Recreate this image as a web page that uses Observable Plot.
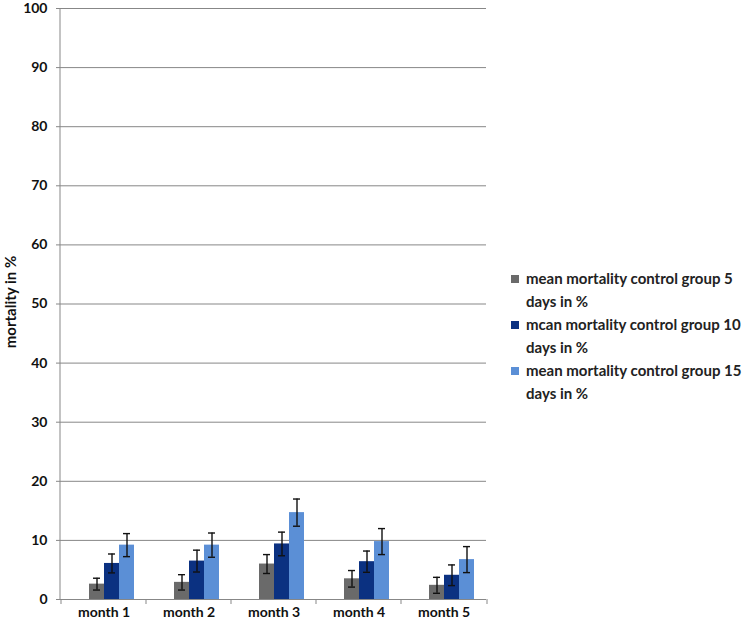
<!DOCTYPE html>
<html>
<head>
<meta charset="utf-8">
<script src="https://cdn.jsdelivr.net/npm/d3@7"></script>
<script src="https://cdn.jsdelivr.net/npm/@observablehq/plot@0.6"></script>
<style>
  html, body { margin: 0; padding: 0; background: #fff; overflow: hidden; }
  #wrap { position: relative; width: 742px; height: 626px; font-family: Lato, "Open Sans", sans-serif; }
  #legend { position: absolute; left: 511px; top: 267px; width: 231px; font-weight: bold; font-size: 15px; color: #222; }
  .item { display: flex; align-items: flex-start; margin-bottom: 1px; line-height: 22.5px; }
  .sw { width: 8px; height: 8px; margin-top: 8px; margin-right: 7px; flex: none; }
  .ylab { position: absolute; left: 10px; top: 302px; transform: translate(-50%, -50%) rotate(-90deg); font-weight: bold; font-size: 15px; white-space: nowrap; color: #111; }
</style>
</head>
<body>
<div id="wrap"></div>
<script>
const months = ["month 1", "month 2", "month 3", "month 4", "month 5"];
const seriesNames = [
  "mean mortality control group 5 days in %",
  "mcan mortality control group 10 days in %",
  "mean mortality control group 15 days in %"
];
const seriesColors = ["#6a6a6a", "#0b3181", "#5b8fd6"];
const mean5 = [2.6, 2.9, 6.0, 3.5, 2.4];
const err5 = [1.0, 1.3, 1.6, 1.4, 1.35];
const mean10 = [6.1, 6.5, 9.4, 6.4, 4.1];
const err10 = [1.6, 1.85, 2.0, 1.8, 1.75];
const mean15 = [9.2, 9.2, 14.7, 9.8, 6.75];
const err15 = [1.95, 2.05, 2.3, 2.2, 2.2];
const yTicks = [0, 10, 20, 30, 40, 50, 60, 70, 80, 90, 100];

const means = [mean5, mean10, mean15];
const errs = [err5, err10, err15];
const data = months.flatMap((m, i) => seriesNames.map((s, j) => ({
  month: m, series: s, value: means[j][i], err: errs[j][i]
})));

const chart = Plot.plot({
  width: 742,
  height: 626,
  marginLeft: 60,
  marginRight: 255,
  marginTop: 8,
  marginBottom: 27,
  style: { fontFamily: "Lato, 'Open Sans', sans-serif", background: "#fff", overflow: "visible" },
  fx: { domain: months, padding: 0, label: null },
  x: { domain: ["", ...seriesNames], paddingInner: 0, paddingOuter: 0.75, axis: null },
  y: { domain: [0, 100], label: null },
  color: { domain: seriesNames, range: seriesColors },
  marks: [
    Plot.gridY(yTicks, { stroke: "#878787", strokeOpacity: 1, strokeWidth: 1 }),
    Plot.axisY(yTicks, { tickSize: 5, tickPadding: 9, fontSize: 14, fontWeight: "bold", stroke: "#878787", color: "#111", label: null }),
    Plot.barY(data, { fx: "month", x: "series", y: "value", fill: "series" }),
    Plot.ruleX(data, { fx: "month", x: "series", y1: d => d.value - d.err, y2: d => d.value + d.err, stroke: "#111", strokeWidth: 1.4 }),
    Plot.tickY(data, { fx: "month", x: "series", y: d => d.value + d.err, stroke: "#111", strokeWidth: 1.4, insetLeft: 4, insetRight: 4 }),
    Plot.tickY(data, { fx: "month", x: "series", y: d => d.value - d.err, stroke: "#111", strokeWidth: 1.4, insetLeft: 4, insetRight: 4 }),
    Plot.axisFx({ anchor: "bottom", tickSize: 0, tickPadding: 8, fontSize: 14, fontWeight: "bold", color: "#111", label: null })
  ]
});

// y axis line and category separators drawn from the plot's own scales
const fx = chart.scale("fx");
const y = chart.scale("y");
const svg = d3.select(chart);
const x0 = fx.range[0], x1 = fx.range[1];
svg.append("line").attr("x1", x0).attr("x2", x0).attr("y1", y.apply(100)).attr("y2", y.apply(0)).attr("stroke", "#878787");
const edges = months.map(m => fx.apply(m)).concat([x1]);
svg.append("g").selectAll("line").data(edges).join("line")
  .attr("x1", d => d).attr("x2", d => d)
  .attr("y1", y.apply(0)).attr("y2", y.apply(0) + 5)
  .attr("stroke", "#878787");

const wrap = document.getElementById("wrap");
wrap.appendChild(chart);

const ylab = document.createElement("div");
ylab.className = "ylab";
ylab.textContent = "mortality in %";
wrap.appendChild(ylab);

const legend = document.createElement("div");
legend.id = "legend";
seriesNames.forEach((s, i) => {
  const it = document.createElement("div");
  it.className = "item";
  const sw = document.createElement("span");
  sw.className = "sw";
  sw.style.background = seriesColors[i];
  const tx = document.createElement("span");
  tx.textContent = s;
  it.appendChild(sw);
  it.appendChild(tx);
  legend.appendChild(it);
});
wrap.appendChild(legend);
</script>
</body>
</html>
